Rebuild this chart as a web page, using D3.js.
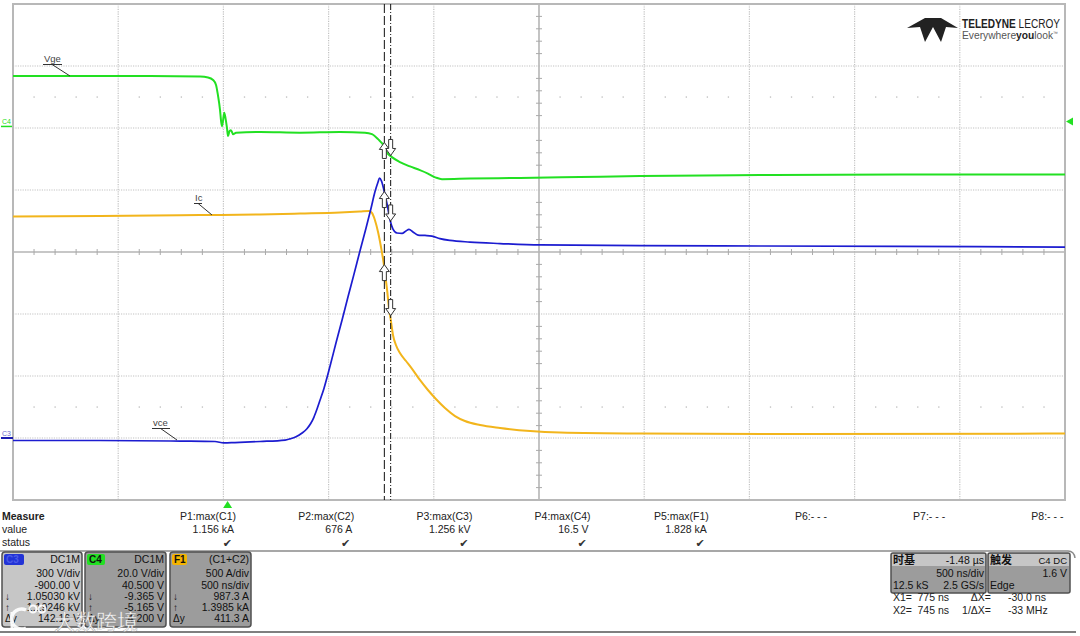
<!DOCTYPE html>
<html><head><meta charset="utf-8">
<script src="https://cdn.jsdelivr.net/npm/d3@7"></script>
<style>
body{margin:0;background:#fff;}
svg{display:block;font-family:"Liberation Sans",Arial,sans-serif;}
</style>
</head><body>
<svg id="c" width="1080" height="636"></svg>
<script>
// ---------------- DATA ----------------
// time base
const timePerDiv = 500;      // ns/div
const timeDelay = -1480;     // ns (time base -1.48 µs)
// channels
const channelNames = ["C3", "C4", "F1"];
const voltsPerDiv = [300, 20, 500];
const channelOffsets = [-900, 40.5, -1500];
const traceColors = ["#1c1cd0", "#22e022", "#f2b51c"];
// Vge (C4) [ns, V]
const vgeData = [[-1020,16.3],[-369,16.3],[-131,16.1],[-93,15.8],[-69,15.0],[-55,13.4],[-46,10.1],[-36,5.3],[-31,1.7],[-27,0.1],[-22,1.7],[-16,4.4],[-10,2.7],[-3,-0.5],[2,-3.1],[9,-1.5],[16,-1.2],[26,-2.5],[40,-2.0],[154,-1.8],[344,-2.0],[534,-1.8],[653,-2.0],[686,-2.5],[715,-4.1],[743,-6.3],[757,-8.4],[781,-9.9],[819,-11.5],[867,-12.9],[914,-14.1],[952,-15.2],[990,-16.5],[1019,-17.0],[1152,-16.8],[1390,-16.6],[1675,-16.3],[1960,-16.0],[2531,-15.7],[3196,-15.5],[3980,-15.5]];
// vce (C3) [ns, V]
const vceData = [[-1020,-12],[-606,-12],[-226,-15],[-60,-17],[-17,-24],[35,-22],[154,-17],[273,-10],[297,-4],[325,6],[354,24],[377,45],[395,70],[410,100],[425,140],[440,185],[458,240],[487,348],[515,460],[544,571],[572,682],[601,794],[629,905],[658,1016],[682,1113],[700,1190],[715,1239],[722,1258],[731,1244],[743,1200],[758,1132],[772,1055],[786,1011],[805,992],[829,990],[848,1002],[862,1009],[881,997],[905,982],[938,980],[971,977],[1009,965],[1057,956],[1152,948],[1295,941],[1485,934],[1960,931],[2531,929],[3196,927],[3980,924]];
// Ic (F1 = C1+C2) [ns, A]
const icData = [[-1020,1786],[-606,1790],[-131,1798],[154,1802],[344,1810],[534,1819],[629,1827],[672,1831],[686,1815],[700,1758],[715,1661],[729,1540],[741,1419],[750,1306],[758,1194],[767,1048],[777,935],[786,831],[800,750],[819,685],[848,621],[881,548],[914,468],[952,387],[990,315],[1033,242],[1081,177],[1128,137],[1200,105],[1295,81],[1438,56],[1580,44],[1960,36],[2721,32],[3980,36]];
// cursors
const cursorTimes = [775, 745];            // X1, X2 (ns)
const cursorDown = [1050.30, -9.365, 987.3]; // values at X1 for C3, C4, F1
const cursorUp = [1192.46, -5.165, 1398.5];  // values at X2
const triggerLevel = 1.6; // V on C4
// measurements
const measureLabels = ["P1:max(C1)","P2:max(C2)","P3:max(C3)","P4:max(C4)","P5:max(F1)","P6:- - -","P7:- - -","P8:- - -"];
const measureValues = ["1.156 kA","676 A","1.256 kV","16.5 V","1.828 kA","","",""];
const measureStatus = [true,true,true,true,true,false,false,false];
// channel descriptor boxes
const boxC3 = ["DC1M","300 V/div","-900.00 V","1.05030 kV","1.19246 kV","142.16 V"];
const boxC4 = ["DC1M","20.0 V/div","40.500 V","-9.365 V","-5.165 V","4.200 V"];
const boxF1 = ["(C1+C2)","500 A/div","500 ns/div","987.3 A","1.3985 kA","411.3 A"];

// ---------------- LAYOUT ----------------
const svg = d3.select("#c");
const X0 = 13, X1 = 1065, Y0 = 4, Y1 = 500;
const tCenter = -timeDelay;
const x = d3.scaleLinear().domain([tCenter - 5*timePerDiv, tCenter + 5*timePerDiv]).range([X0, X1]);
const yScales = channelNames.map((n,i) => {
  const c = -channelOffsets[i];
  return d3.scaleLinear().domain([c - 4*voltsPerDiv[i], c + 4*voltsPerDiv[i]]).range([Y1, Y0]);
});
const [yC3, yC4, yF1] = yScales;
const gx = d3.scaleLinear().domain([0,10]).range([X0,X1]);
const gy = d3.scaleLinear().domain([0,8]).range([Y0,Y1]);

// grid
const grid = svg.append("g");
d3.range(1,10).filter(i=>i!==5).forEach(i=>{
  grid.append("line").attr("x1",gx(i)).attr("x2",gx(i)).attr("y1",Y0).attr("y2",Y1)
    .attr("stroke","#c2c2c2").attr("stroke-width",1.2).attr("stroke-dasharray","1.2,1.2");
});
d3.range(1,8).filter(j=>j!==4).forEach(j=>{
  grid.append("line").attr("x1",X0).attr("x2",X1).attr("y1",gy(j)).attr("y2",gy(j))
    .attr("stroke","#c2c2c2").attr("stroke-width",1.2).attr("stroke-dasharray","1.2,1.2");
});
// subdivision dot rows
[1.5, 6.5].forEach(j=>{
  d3.range(1,50).filter(k=>k%5!==0).forEach(k=>{
    grid.append("rect").attr("x",gx(k/5)-0.6).attr("y",gy(j)-0.6).attr("width",1.3).attr("height",1.3).attr("fill","#bbb");
  });
});
// center axes
grid.append("line").attr("x1",gx(5)).attr("x2",gx(5)).attr("y1",Y0).attr("y2",Y1).attr("stroke","#b5b5b5").attr("stroke-width",1.6);
grid.append("line").attr("x1",X0).attr("x2",X1).attr("y1",gy(4)).attr("y2",gy(4)).attr("stroke","#b5b5b5").attr("stroke-width",1.6);
d3.range(1,40).filter(k=>k%5!==0).forEach(k=>{
  grid.append("line").attr("x1",gx(5)-3).attr("x2",gx(5)+3).attr("y1",gy(k/5)).attr("y2",gy(k/5)).attr("stroke","#aaa").attr("stroke-width",1);
});
d3.range(1,50).filter(k=>k%5!==0).forEach(k=>{
  grid.append("line").attr("x1",gx(k/5)).attr("x2",gx(k/5)).attr("y1",gy(4)-3).attr("y2",gy(4)+3).attr("stroke","#aaa").attr("stroke-width",1);
});
grid.append("rect").attr("x",X0).attr("y",Y0).attr("width",X1-X0).attr("height",Y1-Y0)
  .attr("fill","none").attr("stroke","#b8b8b8").attr("stroke-width",2);

// logo
const logo = svg.append("g");
logo.append("path").attr("d","M907,28 L925,18 L941,18 L958,28 L946,27 L941,42 L933,27 L925,42 L920,27 Z").attr("fill","#222");
logo.append("text").attr("x",962).attr("y",28).attr("font-size",12).attr("fill","#222")
  .attr("textLength",98).attr("lengthAdjust","spacingAndGlyphs")
  .html('<tspan font-weight="bold">TELEDYNE</tspan> LECROY');
logo.append("text").attr("x",962).attr("y",39).attr("font-size",10.5).attr("fill","#555")
  .attr("textLength",96).attr("lengthAdjust","spacingAndGlyphs")
  .html('Everywhere<tspan font-weight="bold" fill="#222">you</tspan>look<tspan font-size="5" dy="-4">™</tspan>');

// traces
svg.append("clipPath").attr("id","pc").append("rect").attr("x",X0).attr("y",Y0).attr("width",X1-X0).attr("height",Y1-Y0);
const traces = svg.append("g").attr("clip-path","url(#pc)");
const mkLine = ys => d3.line().x(d=>x(d[0])).y(d=>ys(d[1])).curve(d3.curveMonotoneX);
traces.append("path").datum(icData).attr("d",mkLine(yF1)).attr("fill","none").attr("stroke",traceColors[2]).attr("stroke-width",2);
traces.append("path").datum(vgeData).attr("d",mkLine(yC4)).attr("fill","none").attr("stroke",traceColors[1]).attr("stroke-width",2);
traces.append("path").datum(vceData).attr("d",mkLine(yC3)).attr("fill","none").attr("stroke",traceColors[0]).attr("stroke-width",1.7);

// cursors
svg.append("line").attr("x1",x(cursorTimes[1])).attr("x2",x(cursorTimes[1])).attr("y1",Y0).attr("y2",Y1)
  .attr("stroke","#111").attr("stroke-width",1).attr("stroke-dasharray","9,3");
svg.append("line").attr("x1",x(cursorTimes[0])).attr("x2",x(cursorTimes[0])).attr("y1",Y0).attr("y2",Y1)
  .attr("stroke","#111").attr("stroke-width",1).attr("stroke-dasharray","6,2,1,2");
const upArrow = "M0,0 L5,7 L2,7 L2,16 L-2,16 L-2,7 L-5,7 Z";
const downArrow = "M0,0 L5,-7 L2,-7 L2,-16 L-2,-16 L-2,-7 L-5,-7 Z";
yScales.forEach((ys,i)=>{
  svg.append("path").attr("d",upArrow).attr("transform",`translate(${x(cursorTimes[1])},${ys(cursorUp[i])})`)
    .attr("fill","#fff").attr("stroke","#333").attr("stroke-width",1);
  svg.append("path").attr("d",downArrow).attr("transform",`translate(${x(cursorTimes[0])},${ys(cursorDown[i])})`)
    .attr("fill","#fff").attr("stroke","#333").attr("stroke-width",1);
});

// trace labels
function traceLabel(txt, tx, ty, w, lx, ly){
  svg.append("text").attr("x",tx).attr("y",ty).attr("font-size",9.5).attr("fill","#444").text(txt);
  svg.append("line").attr("x1",tx-1).attr("x2",tx+w).attr("y1",ty+2.5).attr("y2",ty+2.5).attr("stroke","#333").attr("stroke-width",1);
  svg.append("line").attr("x1",tx+w*0.45).attr("x2",lx).attr("y1",ty+2.5).attr("y2",ly).attr("stroke","#333").attr("stroke-width",1);
}
traceLabel("Vge", 44, 62, 18, 70, 76);
traceLabel("Ic", 195, 201, 7, 212, 215);
traceLabel("vce", 153, 426, 17, 177, 440);

// channel ground markers
svg.append("text").attr("x",2).attr("y",yC4(0)-2).attr("font-size",7).attr("fill",traceColors[1]).text("C4");
svg.append("line").attr("x1",1).attr("x2",12).attr("y1",yC4(0)).attr("y2",yC4(0)).attr("stroke",traceColors[1]).attr("stroke-width",1.5);
svg.append("text").attr("x",2).attr("y",yC3(0)-2).attr("font-size",7).attr("fill","#6b6bd0").text("C3");
svg.append("line").attr("x1",1).attr("x2",13).attr("y1",yC3(0)).attr("y2",yC3(0)).attr("stroke","#1c1cb0").attr("stroke-width",2);

// trigger markers
const trgY = yC4(triggerLevel);
svg.append("path").attr("d",`M${X1+1},${trgY} L${X1+8},${trgY-4} L${X1+8},${trgY+4} Z`).attr("fill",traceColors[1]);
const trgX = x(0);
svg.append("path").attr("d",`M${trgX},${Y1+1} L${trgX+4.5},${Y1+8} L${trgX-4.5},${Y1+8} Z`).attr("fill",traceColors[1]);

// ---------------- MEASURE TABLE ----------------
const mt = svg.append("g").attr("font-size",10.5).attr("fill","#222");
mt.append("text").attr("x",2).attr("y",520).attr("font-weight","bold").text("Measure");
mt.append("text").attr("x",2).attr("y",533).text("value");
mt.append("text").attr("x",2).attr("y",546).text("status");
measureLabels.forEach((l,i)=>{
  const rx = 236 + i*118.2;
  mt.append("text").attr("x",rx).attr("y",520).attr("text-anchor","end").text(l);
  if(measureValues[i]) mt.append("text").attr("x",rx-2).attr("y",533).attr("text-anchor","end").text(measureValues[i]);
  if(measureStatus[i]) mt.append("text").attr("x",rx-4).attr("y",547).attr("text-anchor","end")
     .attr("font-family","DejaVu Sans").attr("font-size",11).attr("fill","#333").text("✔");
});
// separators
svg.append("path").attr("d","M0,551 L1068,551 Q1074,551 1075,558").attr("fill","none").attr("stroke","#8a8a8a").attr("stroke-width",1.5);
svg.append("line").attr("x1",0).attr("x2",1076).attr("y1",632).attr("y2",632).attr("stroke","#555").attr("stroke-width",1.5);

// ---------------- CHANNEL BOXES ----------------
function chanBox(bx, w, fill, badgeFill, badgeW, badgeTxt, badgeTxtFill, rows, leftMarks){
  const g = svg.append("g");
  g.append("rect").attr("x",bx).attr("y",552).attr("width",w).attr("height",75).attr("rx",3)
    .attr("fill",fill).attr("stroke","#505050").attr("stroke-width",1.5);
  g.append("rect").attr("x",bx+2).attr("y",554).attr("width",badgeW).attr("height",11).attr("rx",2).attr("fill",badgeFill);
  g.append("text").attr("x",bx+4).attr("y",563).attr("font-size",10).attr("font-weight","bold").attr("fill",badgeTxtFill).text(badgeTxt);
  const bys = [563,577,589,600,611,622];
  rows.forEach((r,i)=>{
    g.append("text").attr("x",bx+w-2).attr("y",bys[i]).attr("text-anchor","end").attr("font-size",10.5).attr("fill","#111").text(r);
  });
  leftMarks.forEach((m,i)=>{
    g.append("text").attr("x",bx+3).attr("y",bys[3+i]).attr("font-size",10).attr("fill","#111").text(m);
  });
}
chanBox(2, 80, "#c6c6c6", "#2233d6", 20, "C3", "#4a5ae6", boxC3, ["↓","↑","Δy"]);
chanBox(85, 81, "#9c9c9c", "#22e022", 18, "C4", "#111", boxC4, ["↓","↑","Δy"]);
chanBox(170, 81, "#9c9c9c", "#f5b400", 15, "F1", "#111", boxF1, ["↓","↑","Δy"]);

// watermark
const wm = svg.append("g").attr("opacity",0.92);
wm.append("path").attr("d","M26,610 A10,10 0 1 0 26,628").attr("fill","none").attr("stroke","#fff").attr("stroke-width",3.5);
wm.append("path").attr("d","M12,612 L12,628").attr("stroke","#fff").attr("stroke-width",3);
wm.append("circle").attr("cx",33).attr("cy",609).attr("r",3.5).attr("fill","none").attr("stroke","#fff").attr("stroke-width",2);
wm.append("circle").attr("cx",42).attr("cy",609).attr("r",3.5).attr("fill","none").attr("stroke","#fff").attr("stroke-width",2);
wm.append("text").attr("x",54).attr("y",629).attr("font-family","Noto Sans CJK SC").attr("font-size",21)
  .attr("fill","#fff").attr("stroke","#888").attr("stroke-width",0.3).text("大数跨境");

// ---------------- TIMEBASE / TRIGGER ----------------
const tb = svg.append("g").attr("font-size",10.5).attr("fill","#111");
tb.append("rect").attr("x",891).attr("y",553).attr("width",95).attr("height",40).attr("rx",2).attr("fill","#9c9c9c").attr("stroke","#505050").attr("stroke-width",1.5);
tb.append("rect").attr("x",892).attr("y",554).attr("width",93).attr("height",12).attr("fill","#c6c6c6");
tb.append("rect").attr("x",988).attr("y",553).attr("width",82).attr("height",40).attr("rx",2).attr("fill","#9c9c9c").attr("stroke","#505050").attr("stroke-width",1.5);
tb.append("rect").attr("x",989).attr("y",554).attr("width",80).attr("height",12).attr("fill","#c6c6c6");
tb.append("text").attr("x",893).attr("y",564).attr("font-family","Noto Sans CJK SC").attr("font-weight","bold").attr("font-size",11).text("时基");
tb.append("text").attr("x",984).attr("y",564).attr("text-anchor","end").text("-1.48 µs");
tb.append("text").attr("x",984).attr("y",577).attr("text-anchor","end").text("500 ns/div");
tb.append("text").attr("x",893).attr("y",589).text("12.5 kS");
tb.append("text").attr("x",984).attr("y",589).attr("text-anchor","end").text("2.5 GS/s");
tb.append("text").attr("x",990).attr("y",564).attr("font-family","Noto Sans CJK SC").attr("font-weight","bold").attr("font-size",11).text("触发");
tb.append("text").attr("x",1067).attr("y",564).attr("text-anchor","end").attr("font-size",9.5).text("C4  DC");
tb.append("text").attr("x",1067).attr("y",577).attr("text-anchor","end").text("1.6 V");
tb.append("text").attr("x",990).attr("y",589).text("Edge");
// cursor readouts
const cr = svg.append("g").attr("font-size",10.5).attr("fill","#222");
cr.append("text").attr("x",893).attr("y",601).text("X1=");
cr.append("text").attr("x",949).attr("y",601).attr("text-anchor","end").text(cursorTimes[0]+" ns");
cr.append("text").attr("x",991).attr("y",601).attr("text-anchor","end").text("ΔX=");
cr.append("text").attr("x",1008).attr("y",601).text("-30.0 ns");
cr.append("text").attr("x",893).attr("y",614).text("X2=");
cr.append("text").attr("x",949).attr("y",614).attr("text-anchor","end").text(cursorTimes[1]+" ns");
cr.append("text").attr("x",991).attr("y",614).attr("text-anchor","end").text("1/ΔX=");
cr.append("text").attr("x",1008).attr("y",614).text("-33 MHz");
</script>
</body></html>
